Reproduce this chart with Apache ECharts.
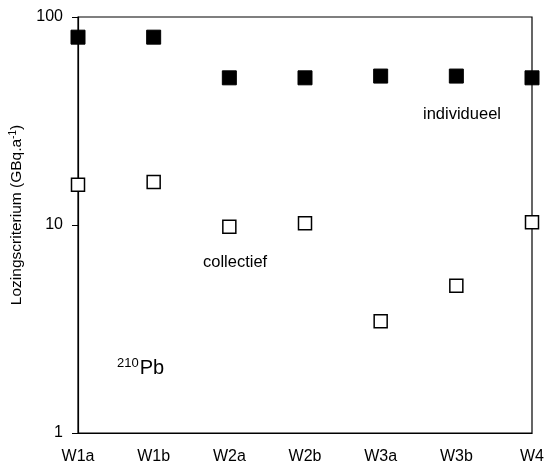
<!DOCTYPE html>
<html><head><meta charset="utf-8">
<script src="https://cdn.jsdelivr.net/npm/echarts@6/dist/echarts.min.js"></script>
<style>html,body{margin:0;padding:0;background:#fff}#c{width:548px;height:467px}</style>
</head><body><div id="c"></div>
<script>
const categories = ['W1a','W1b','W2a','W2b','W3a','W3b','W4'];
const individueel = [80, 80, 51, 51, 52, 52, 51];
const collectief = [15.6, 16.1, 9.8, 10.2, 3.45, 5.1, 10.3];
const yTicks = [1, 10, 100];

const chart = echarts.init(document.getElementById('c'), null, {renderer:'canvas'});
const font = '"Liberation Sans", Arial, sans-serif';
chart.setOption({
  animation:false,
  backgroundColor:'#fff',
  textStyle:{fontFamily:font},
  grid:{left:78,right:16,top:17,bottom:34,show:true,borderColor:'#000',borderWidth:1.2,containLabel:false,outerBoundsMode:'none'},
  xAxis:{
    type:'category', data:categories, boundaryGap:false,
    axisLine:{show:true,lineStyle:{color:'#000',width:1.2}},
    axisTick:{show:false},
    axisLabel:{color:'#000',fontSize:16,fontFamily:font,margin:16},
    splitLine:{show:false}
  },
  yAxis:{
    type:'log', logBase:10, min:1, max:100,
    name:'{a|Lozingscriterium (GBq.a}{s|-1}{a|)}',
    nameLocation:'middle', nameGap:52, nameRotate:90,
    nameTextStyle:{padding:[0,0,0,20],rich:{a:{fontSize:15.5,color:'#000',fontFamily:font},s:{fontSize:10,color:'#000',fontFamily:font,verticalAlign:'top',padding:[0,0,8,0]}}},
    axisLine:{show:true,lineStyle:{color:'#000',width:1.2}},
    axisTick:{show:true,inside:false,length:6,lineStyle:{color:'#000'}},
    axisLabel:{color:'#000',fontSize:16,fontFamily:font,margin:15,
      formatter:v=>{const r=Math.round(v); return yTicks.includes(r)?String(r):'';}},
    splitLine:{show:false}
  },
  series:[
    {name:'individueel',type:'scatter',data:individueel,symbol:'rect',symbolSize:14,
     itemStyle:{color:'#000',borderColor:'#000',borderWidth:1,opacity:1},z:3},
    {name:'collectief',type:'scatter',data:collectief,symbol:'rect',symbolSize:13,
     itemStyle:{color:'#fff',borderColor:'#000',borderWidth:1.5,opacity:1},z:3}
  ],
  graphic:[
    {type:'text',left:423,top:106,style:{text:'individueel',font:'16.5px '+font,fill:'#000'}},
    {type:'text',left:203,top:254,style:{text:'collectief',font:'16.5px '+font,fill:'#000'}},
    {type:'text',left:117,top:357,style:{text:'{s|210}{p|Pb}',rich:{s:{fontSize:13,fontFamily:font,color:'#000',verticalAlign:'top',padding:[0,1,10,0]},p:{fontSize:20,fontFamily:font,color:'#000'}}}}
  ]
});
</script></body></html>
